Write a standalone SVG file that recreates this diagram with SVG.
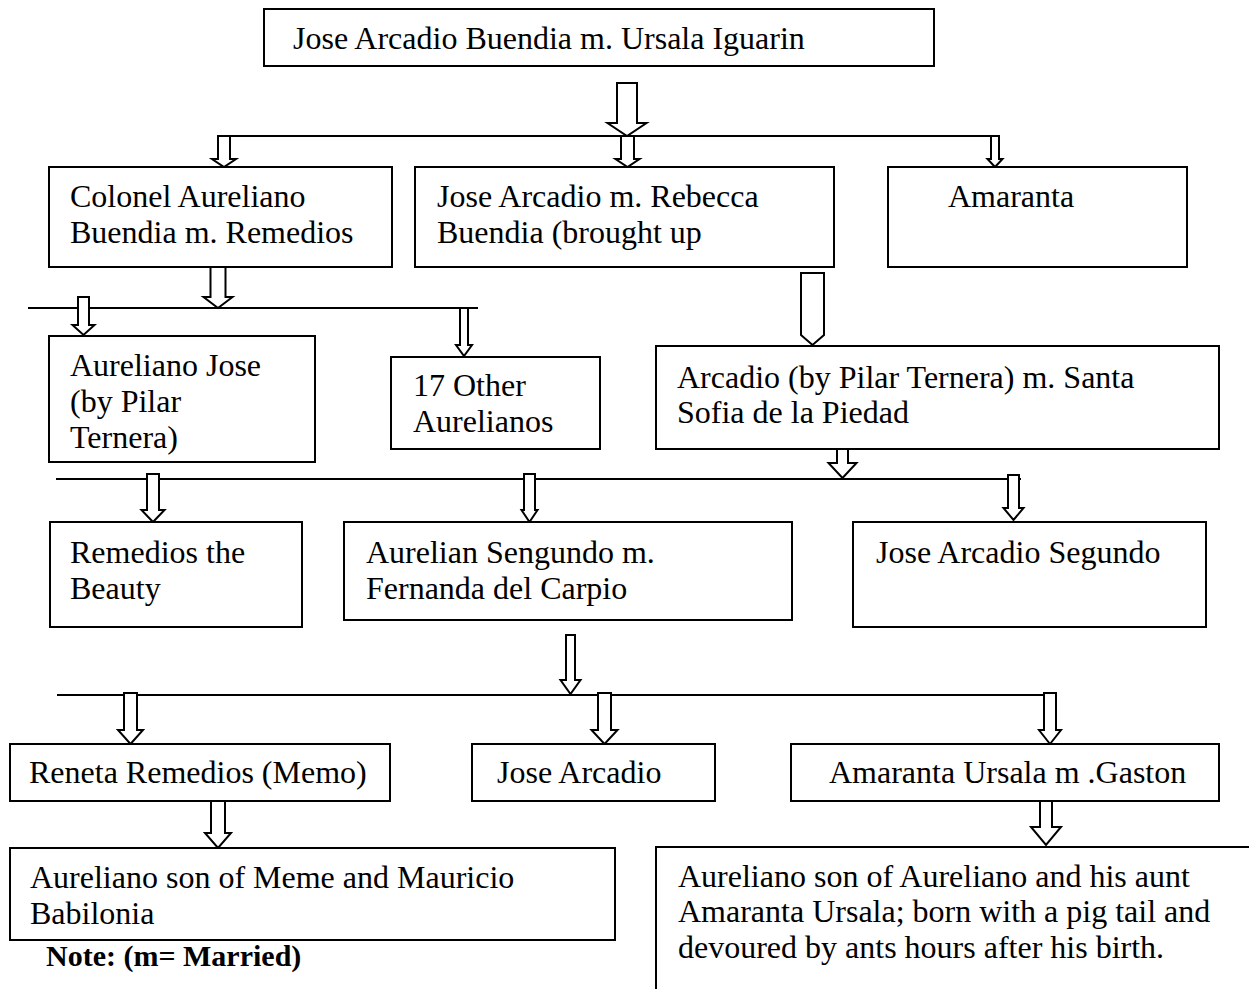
<svg xmlns="http://www.w3.org/2000/svg" width="1249" height="989" viewBox="0 0 1249 989">
<style>
.box{fill:#fff;stroke:#000;stroke-width:2}
.t{font-family:"Liberation Serif","Times New Roman",serif;font-size:32px;fill:#000}
.note{font-family:"Liberation Serif","Times New Roman",serif;font-size:30px;font-weight:bold;fill:#000}
.ln{stroke:#000;stroke-width:2;fill:none}
.ar{fill:#fff;stroke:#000;stroke-width:2;stroke-linejoin:miter}
</style>
<rect width="1249" height="989" fill="#fff"/>
<g id="connectors">
<line class="ln" x1="223" y1="136" x2="990" y2="136"/>
<line class="ln" x1="28" y1="308" x2="478" y2="308"/>
<line class="ln" x1="56" y1="479" x2="1021" y2="479"/>
<line class="ln" x1="57" y1="695" x2="1053" y2="695"/>
<polygon class="ar" points="617,83 637,83 637,123 646.5,123 627,136 607.5,123 617,123"/>
<polygon class="ar" points="218,136 230,136 230,159 236,159 224,167 212,159 218,159"/>
<polygon class="ar" points="621,136 634,136 634,159 639.5,159 627.5,167 615.5,159 621,159"/>
<polygon class="ar" points="991,136 999,136 999,159 1002.5,159 995,167 987.5,159 991,159"/>
<polygon class="ar" points="210.5,267 225.5,267 225.5,297 232.5,297 218,308 203.5,297 210.5,297"/>
<polygon class="ar" points="78,297 89,297 89,325 94.5,325 83.5,335 72.5,325 78,325"/>
<polygon class="ar" points="460,308 468,308 468,345 472,345 464,356 456,345 460,345"/>
<polygon class="ar" points="801,273 824,273 824,335 812.5,345 801,335"/>
<polygon class="ar" points="837,440 848,440 848,463 856.5,463 842.5,478 828.5,463 837,463"/>
<polygon class="ar" points="147,474 159,474 159,510 164.5,510 153,522 141.5,510 147,510"/>
<polygon class="ar" points="524,474 535,474 535,510 537.5,510 529.5,522 521.5,510 524,510"/>
<polygon class="ar" points="1008,475 1019,475 1019,508 1023.5,508 1013.5,520 1003.5,508 1008,508"/>
<polygon class="ar" points="566,635 575,635 575,680 580.5,680 570.5,694 560.5,680 566,680"/>
<polygon class="ar" points="124,693 137,693 137,730 143,730 130.5,744 118,730 124,730"/>
<polygon class="ar" points="598,693 611,693 611,730 617.5,730 604.5,744 591.5,730 598,730"/>
<polygon class="ar" points="1044,693 1056,693 1056,730 1061,730 1050,744 1039,730 1044,730"/>
<polygon class="ar" points="211,801 225,801 225,833 231,833 218,848 205,833 211,833"/>
<polygon class="ar" points="1040,800 1052,800 1052,827 1061,827 1046,845 1031,827 1040,827"/>
</g>
<g id="n-root"><rect class="box" x="264" y="9" width="670" height="57"/><text class="t" x="293" y="49">Jose Arcadio Buendia m. Ursala Iguarin</text></g>
<g id="n-colonel"><rect class="box" x="49" y="167" width="343" height="100"/><text class="t" x="70" y="207">Colonel Aureliano</text><text class="t" x="70" y="243">Buendia m. Remedios</text></g>
<g id="n-josearcadio"><rect class="box" x="415" y="167" width="419" height="100"/><text class="t" x="437" y="207">Jose Arcadio m. Rebecca</text><text class="t" x="437" y="243">Buendia (brought up</text></g>
<g id="n-amaranta"><rect class="box" x="888" y="167" width="299" height="100"/><text class="t" x="948" y="207">Amaranta</text></g>
<g id="n-aurelianojose"><rect class="box" x="49" y="336" width="266" height="126"/><text class="t" x="70" y="376">Aureliano Jose</text><text class="t" x="70" y="412">(by Pilar</text><text class="t" x="70" y="448">Ternera)</text></g>
<g id="n-17other"><rect class="box" x="391" y="357" width="209" height="92"/><text class="t" x="413" y="396">17 Other</text><text class="t" x="413" y="432">Aurelianos</text></g>
<g id="n-arcadio"><rect class="box" x="656" y="346" width="563" height="103"/><text class="t" x="677" y="388">Arcadio (by Pilar Ternera) m. Santa</text><text class="t" x="677" y="423">Sofia de la Piedad</text></g>
<g id="n-remedios"><rect class="box" x="50" y="522" width="252" height="105"/><text class="t" x="70" y="563">Remedios the</text><text class="t" x="70" y="599">Beauty</text></g>
<g id="n-sengundo"><rect class="box" x="344" y="522" width="448" height="98"/><text class="t" x="366" y="563">Aurelian Sengundo m.</text><text class="t" x="366" y="599">Fernanda del Carpio</text></g>
<g id="n-jasegundo"><rect class="box" x="853" y="522" width="353" height="105"/><text class="t" x="876" y="563">Jose Arcadio Segundo</text></g>
<g id="n-reneta"><rect class="box" x="10" y="744" width="380" height="57"/><text class="t" x="29" y="783">Reneta Remedios (Memo)</text></g>
<g id="n-josearcadio2"><rect class="box" x="472" y="744" width="243" height="57"/><text class="t" x="497" y="783">Jose Arcadio</text></g>
<g id="n-amarantaursala"><rect class="box" x="791" y="744" width="428" height="57"/><text class="t" x="829" y="783">Amaranta Ursala m .Gaston</text></g>
<g id="n-meme"><rect class="box" x="10" y="848" width="605" height="92"/><text class="t" x="30" y="888">Aureliano son of Meme and Mauricio</text><text class="t" x="30" y="924">Babilonia</text></g>
<g id="n-pigtail"><path class="ln" d="M656,989 V847 H1249"/><text class="t" x="678" y="887">Aureliano son of Aureliano and his aunt</text><text class="t" x="678" y="922">Amaranta Ursala; born with a pig tail and</text><text class="t" x="678" y="958">devoured by ants hours after his birth.</text></g>
<g id="note"><text class="note" x="46" y="966">Note: (m= Married)</text></g>
</svg>
